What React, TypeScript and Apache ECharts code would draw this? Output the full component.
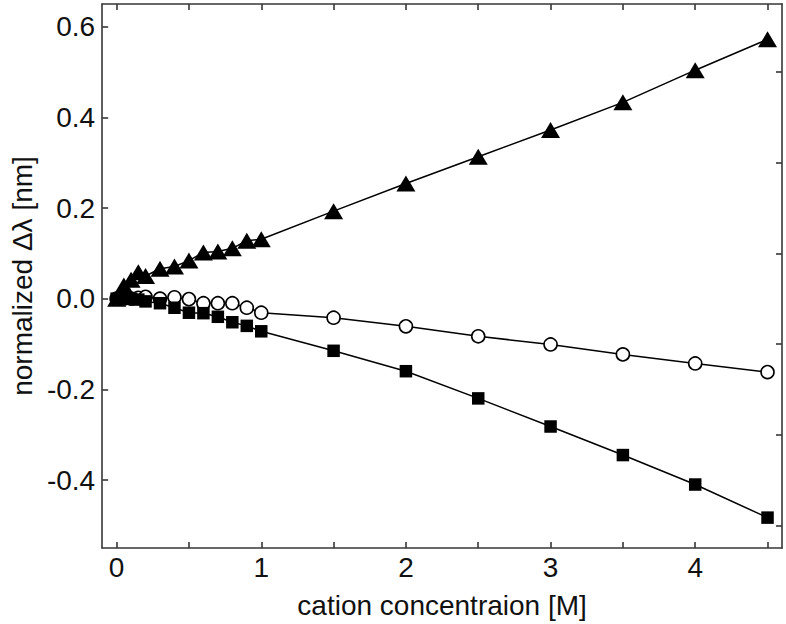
import React, { useEffect, useRef } from "react";
import * as echarts from "echarts";

// Data
const concentration = [0, 0.05, 0.1, 0.15, 0.2, 0.3, 0.4, 0.5, 0.6, 0.7, 0.8, 0.9, 1.0, 1.5, 2.0, 2.5, 3.0, 3.5, 4.0, 4.5];
const triangleValues = [0, 0.029, 0.042, 0.058, 0.05, 0.066, 0.071, 0.084, 0.102, 0.104, 0.111, 0.128, 0.131, 0.193, 0.254, 0.313, 0.372, 0.433, 0.504, 0.572];
const circleValues = [0, 0, 0, 0.002, 0.004, 0, 0.003, -0.001, -0.01, -0.01, -0.01, -0.02, -0.031, -0.042, -0.061, -0.083, -0.101, -0.123, -0.143, -0.162];
const squareValues = [0, 0, 0, -0.002, -0.006, -0.01, -0.02, -0.031, -0.032, -0.04, -0.052, -0.06, -0.072, -0.115, -0.16, -0.22, -0.282, -0.345, -0.41, -0.483];

// Tick values
const xTickValues = [0, 0.5, 1, 1.5, 2, 2.5, 3, 3.5, 4, 4.5];
const xLabelValues = [0, 1, 2, 3, 4];
const yLabelValues = [-0.4, -0.2, 0, 0.2, 0.4, 0.6];
const yRightTickValues = [-0.5, -0.3, -0.1, 0.1, 0.3, 0.5];

const xTitle = "cation concentraion [M]";
const yTitle = "normalized Δλ [nm]";

const FONT = "'Liberation Sans', Arial, Helvetica, sans-serif";
const frameColor = "#363636";
const textColor = "#111";

export default function App() {
  const ref = useRef<HTMLDivElement>(null);

  useEffect(() => {
    if (!ref.current) return;
    const chart = echarts.init(ref.current, null, { renderer: "svg" });
    const lineStyle = { color: frameColor, width: 1.6 };
    const tick = (values: number[]) => ({
      show: true,
      inside: true,
      length: 6,
      lineStyle,
      customValues: values,
    });
    const toPairs = (vals: number[]) => concentration.map((x, i) => [x, vals[i]]);

    chart.setOption({
      animation: false,
      backgroundColor: "#fff",
      grid: { left: 90, right: 4, top: 4, bottom: 75, containLabel: false },
      xAxis: [
        {
          type: "value",
          position: "bottom",
          min: -0.1,
          max: 4.6,
          axisLine: { show: true, onZero: false, lineStyle },
          axisTick: tick(xTickValues),
          axisLabel: {
            customValues: xLabelValues,
            formatter: (v: number) => String(v),
            fontSize: 28,
            fontFamily: FONT,
            color: textColor,
            margin: 5,
          },
          splitLine: { show: false },
          name: xTitle,
          nameLocation: "middle",
          nameGap: 43,
          nameTextStyle: { fontSize: 28, fontFamily: FONT, color: textColor },
        },
        {
          type: "value",
          position: "top",
          min: -0.1,
          max: 4.6,
          axisLine: { show: true, onZero: false, lineStyle },
          axisTick: tick(xTickValues),
          axisLabel: { show: false },
          splitLine: { show: false },
        },
      ],
      yAxis: [
        {
          type: "value",
          position: "left",
          min: -0.55,
          max: 0.65,
          axisLine: { show: true, onZero: false, lineStyle },
          axisTick: tick(yLabelValues),
          axisLabel: {
            customValues: yLabelValues,
            formatter: (v: number) => v.toFixed(1),
            fontSize: 28,
            fontFamily: FONT,
            color: textColor,
            margin: 7,
          },
          splitLine: { show: false },
          name: yTitle,
          nameLocation: "middle",
          nameGap: 55,
          nameTextStyle: { fontSize: 28, fontFamily: FONT, color: textColor },
        },
        {
          type: "value",
          position: "right",
          min: -0.55,
          max: 0.65,
          axisLine: { show: true, onZero: false, lineStyle },
          axisTick: tick(yRightTickValues),
          axisLabel: { show: false },
          splitLine: { show: false },
        },
      ],
      series: [
        {
          type: "line",
          name: "triangle",
          data: toPairs(triangleValues),
          symbol: "triangle",
          symbolSize: [19, 16],
          itemStyle: { color: "#000" },
          lineStyle: { color: "#000", width: 1.5 },
          emphasis: { disabled: true },
        },
        {
          type: "line",
          name: "circle",
          data: toPairs(circleValues),
          symbol: "circle",
          symbolSize: 13,
          itemStyle: { color: "#fff", borderColor: "#000", borderWidth: 1.6 },
          lineStyle: { color: "#000", width: 1.5 },
          emphasis: { disabled: true },
        },
        {
          type: "line",
          name: "square",
          data: toPairs(squareValues),
          symbol: "rect",
          symbolSize: 12.5,
          itemStyle: { color: "#000" },
          lineStyle: { color: "#000", width: 1.5 },
          emphasis: { disabled: true },
        },
      ],
    });
    return () => chart.dispose();
  }, []);

  return (
    <div
      ref={ref}
      style={{ position: "fixed", left: 0, top: 0, width: 786, height: 624, background: "#fff" }}
    />
  );
}
